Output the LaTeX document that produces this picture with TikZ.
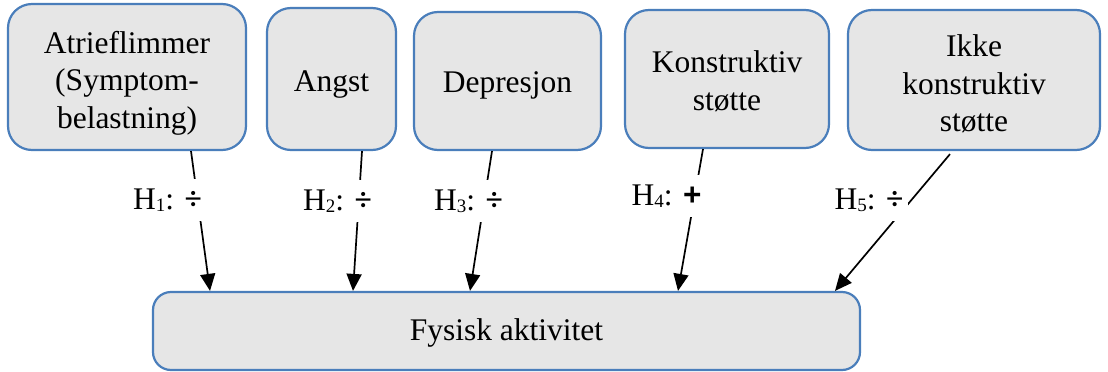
\documentclass[tikz,border=0pt]{standalone}
\usepackage{fontspec}
\setmainfont{Liberation Serif}
\newfontfamily\symfont{Liberation Sans}
\usetikzlibrary{arrows.meta}
\definecolor{boxfill}{HTML}{E6E6E6}
\definecolor{boxline}{HTML}{4A7EBB}
\newcommand{\hyp}[2]{H\raisebox{-2pt}{\fontsize{19}{19}\selectfont #1}: #2}
\begin{document}
\begin{tikzpicture}[x=1pt,y=-1pt,
  box/.style={draw=boxline, fill=boxfill, line width=2.2pt, rounded corners=24pt, inner sep=0pt},
  boxtext/.style={align=center, inner sep=0pt, font=\fontsize{31.5}{37.5}\selectfont},
  conn/.style={line width=1.7pt, -{Triangle[length=17pt,width=15pt]}},
  hlab/.style={fill=white, inner xsep=5pt, inner ysep=9pt, text height=21pt, text depth=3pt,
    anchor=base, font=\fontsize{31.5}{36}\selectfont}]
\useasboundingbox (0,0) rectangle (1108,372);
\node[box, minimum width=238pt, minimum height=146pt] (a) at (127,77) {};
\node[box, minimum width=129pt, minimum height=142pt] (b) at (331.5,79) {};
\node[box, minimum width=187pt, minimum height=138pt] (c) at (507.5,81) {};
\node[box, minimum width=204pt, minimum height=138pt] (d) at (727,79) {};
\node[box, minimum width=252pt, minimum height=140pt] (e) at (974,80) {};
\node[box, minimum width=707pt, minimum height=78pt, rounded corners=18pt] (f) at (506.5,331) {};
\node[boxtext] (ta) at ([yshift=-6pt]a.center) {Atrieflimmer\\(Symptom-\\belastning)};
\node[boxtext] (tb) at ([yshift=-6pt]b.center) {Angst};
\node[boxtext] (tc) at ([yshift=-4pt]c.center) {Depresjon};
\node[boxtext] (td) at ([yshift=-2pt]d.center) {Konstruktiv\\støtte};
\node[boxtext] (te) at ([yshift=-4pt]e.center) {Ikke\\konstruktiv\\støtte};
\node[boxtext] (tf) at ([yshift=-2pt]f.center) {Fysisk aktivitet};
\draw[conn] ([xshift=64pt]a.south) -- ([xshift=-296.5pt]f.north);
\draw[conn] ([xshift=30.5pt]b.south) -- ([xshift=-153.5pt]f.north);
\draw[conn] ([xshift=-15.5pt]c.south) -- ([xshift=-36.5pt]f.north);
\draw[conn] ([xshift=-24pt]d.south) -- ([xshift=171.5pt]f.north);
\draw[conn] ([xshift=-24pt,yshift=-3pt]e.south) -- ([xshift=328.5pt]f.north);
\node[hlab] (h1) at (167.5,209) {\hyp{1}{\textbf{÷}}};
\node[hlab] (h2) at (337.5,210) {\hyp{2}{\textbf{÷}}};
\node[hlab] (h3) at (468.5,210) {\hyp{3}{\textbf{÷}}};
\node[hlab] (h4) at (666.5,205) {\hyp{4}{{\symfont\bfseries +}}};
\node[hlab] (h5) at (869,209) {\hyp{5}{\textbf{÷}}};
\end{tikzpicture}
\end{document}
